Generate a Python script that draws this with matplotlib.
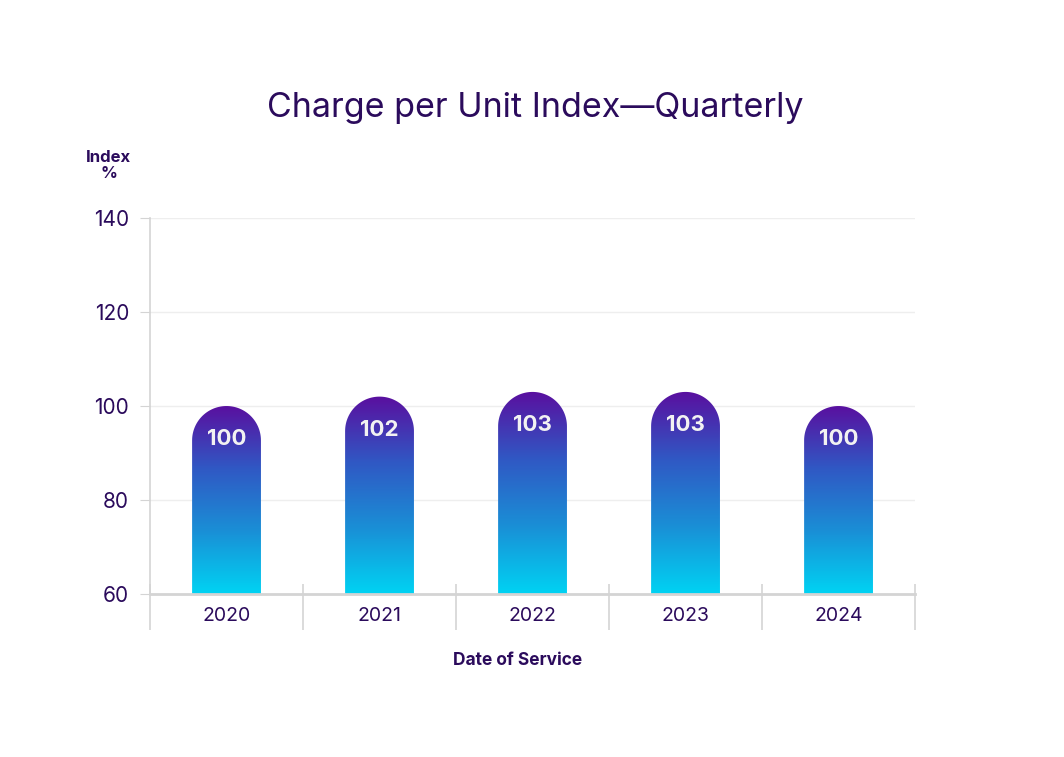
import numpy as np
import matplotlib
matplotlib.use("Agg")
import matplotlib.pyplot as plt
from matplotlib.path import Path
from matplotlib.patches import PathPatch
from matplotlib.colors import LinearSegmentedColormap

# Chart data
years = ["2020", "2021", "2022", "2023", "2024"]
index_values = [100, 102, 103, 103, 100]

plt.rcParams["font.family"] = ["Inter", "DejaVu Sans"]
text_color = "#2b0b5c"
grid_color = "#d4d4d4"

fig = plt.figure(figsize=(10.64, 7.57), dpi=100)
ax = fig.add_axes([0.141, 0.2153, 0.719, 0.4967])

ax.set_xlim(0, len(years))
ax.set_ylim(60, 140)

# gradient: cyan at the bottom, purple on top
cmap = LinearSegmentedColormap.from_list("bar", ["#00d3f3", "#1a8fd6", "#3058c4", "#5a0f9f"])
grad = np.linspace(0, 1, 256).reshape(-1, 1)

bar_w = 0.45
fig.canvas.draw()
# pixel size of one data unit, so the cap is a true semicircle
p0 = ax.transData.transform((0, 60))
p1 = ax.transData.transform((1, 61))
px_x = p1[0] - p0[0]
px_y = p1[1] - p0[1]

for i, v in enumerate(index_values):
    xc = i + 0.5
    x0, x1 = xc - bar_w / 2, xc + bar_w / 2
    rx = bar_w / 2
    ry = rx * px_x / px_y
    ang = np.linspace(0, np.pi, 60)
    arc = np.column_stack([xc + rx * np.cos(ang), (v - ry) + ry * np.sin(ang)])
    verts = np.vstack([[x0, 60], [x1, 60], [x1, v - ry], arc, [x0, v - ry], [x0, 60]])
    codes = [Path.MOVETO] + [Path.LINETO] * (len(verts) - 2) + [Path.CLOSEPOLY]
    patch = PathPatch(Path(verts, codes), facecolor="none", edgecolor="none")
    ax.add_patch(patch)
    im = ax.imshow(grad, cmap=cmap, origin="lower", aspect="auto",
                   extent=[x0, x1, 60, v], zorder=2)
    im.set_clip_path(patch)
    ax.annotate(str(v), (xc, v), xytext=(0, -24), textcoords="offset points",
                ha="center", va="center", color="#f2f2f2", fontsize=16,
                fontweight="bold", zorder=3)

ax.set_xlim(0, len(years))
ax.set_ylim(60, 140)

# grid and axes styling
ax.set_yticks([60, 80, 100, 120, 140])
ax.yaxis.grid(True, color="#eeeeee", linewidth=1)
ax.set_axisbelow(True)
ax.tick_params(axis="y", length=7, color=grid_color, labelsize=15,
               labelcolor=text_color, pad=8)
ax.set_xticks([i + 0.5 for i in range(len(years))])
ax.set_xticklabels(years)
ax.tick_params(axis="x", length=0, labelsize=14, labelcolor=text_color, pad=9)

for s in ["top", "right"]:
    ax.spines[s].set_visible(False)
ax.spines["left"].set_color(grid_color)
ax.spines["left"].set_linewidth(1.2)
ax.spines["bottom"].set_color(grid_color)
ax.spines["bottom"].set_linewidth(2)

# category separators crossing the x axis
ax.vlines(range(len(years) + 1), -36 / 376, 10 / 376, color=grid_color,
          linewidth=1.2, transform=ax.get_xaxis_transform(), clip_on=False)

fig.text(0.503, 0.857, "Charge per Unit Index\u2014Quarterly", ha="center",
         va="center", fontsize=24.5, color=text_color)
fig.text(0.102, 0.781, "Index\n%", ha="center", va="center", fontsize=12,
         fontweight="bold", color=text_color, linespacing=1.05)
fig.text(0.486, 0.127, "Date of Service", ha="center", va="center",
         fontsize=12.5, fontweight="bold", color=text_color)

fig.savefig("out.png", dpi=100)
